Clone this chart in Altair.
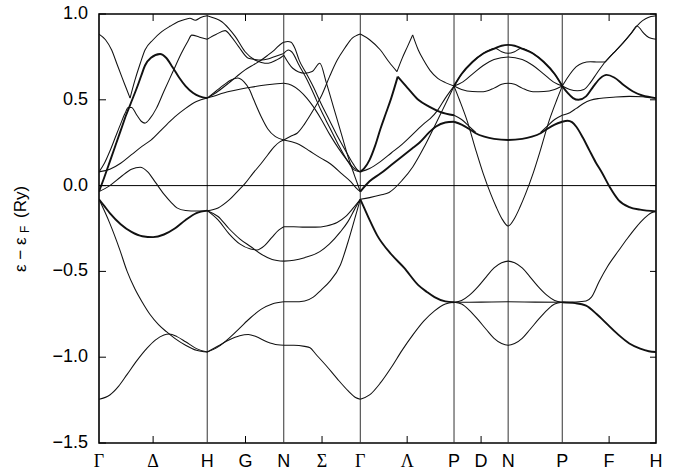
import altair as alt
import pandas as pd

# ---- path / axis data -------------------------------------------------
SYM_LABELS = ["Γ", "Δ", "H", "G", "N", "Σ", "Γ", "Λ", "P", "D", "N", "P", "F", "H"]
SYM_K = [0.0, 0.5, 1.0, 1.3536, 1.7071, 2.0607, 2.4142, 2.8472, 3.2802, 3.5302,
         3.7802, 4.2802, 4.7132, 5.1463]
GREEK = ["Γ", "Δ", "Σ", "Λ"]
VLINE_K = [1.0, 1.7071, 2.4142, 3.2802, 3.7802, 4.2802]
MINOR_K = [0.5, 1.3536, 2.0607, 2.8472, 3.5302, 4.7132]
Y_TICKS = [1.0, 0.5, 0.0, -0.5, -1.0, -1.5]
Y_LABELS = ["1.0", "0.5", "0.0", "−0.5", "−1.0", "−1.5"]
K_MAX = 5.1463

# ---- bands, segment Γ-H ---------------------------------------------------
GAMMA_H = {
    "GH_A1": [(0, 0.883), (0.06, 0.85), (0.117, 0.79), (0.165, 0.71), (0.21, 0.635), (0.25, 0.57), (0.287, 0.51)],
    "GH_A2": [(0.287, 0.51), (0.33, 0.61), (0.38, 0.71), (0.425, 0.79), (0.5, 0.85), (0.58, 0.897), (0.66, 0.93),
              (0.73, 0.955), (0.8, 0.97), (0.84, 0.975), (0.89, 0.963), (0.94, 0.98), (1.0, 0.99)],
    "GH_B": [(0, 0.08), (0.05, 0.13), (0.1, 0.2), (0.15, 0.28), (0.2, 0.36), (0.24, 0.42), (0.27, 0.455),
             (0.3, 0.455), (0.35, 0.41), (0.39, 0.375), (0.425, 0.364), (0.47, 0.39), (0.53, 0.45), (0.6, 0.55),
             (0.68, 0.66), (0.76, 0.77), (0.82, 0.84), (0.857, 0.877), (0.93, 0.865), (1.0, 0.853)],
    "GH_C": [(0, -0.035), (0.05, 0.05), (0.1, 0.14), (0.15, 0.23), (0.2, 0.32), (0.25, 0.41), (0.3, 0.49),
             (0.35, 0.57), (0.39, 0.64), (0.425, 0.70), (0.48, 0.745), (0.564, 0.767), (0.62, 0.745), (0.68, 0.69),
             (0.74, 0.63), (0.8, 0.58), (0.87, 0.54), (0.93, 0.52), (1.0, 0.51)],
    "GH_slow": [(0, 0.08), (0.1, 0.095), (0.2, 0.13), (0.3, 0.18), (0.4, 0.23), (0.48, 0.265), (0.6, 0.34),
                (0.7, 0.4), (0.8, 0.45), (0.9, 0.49), (1.0, 0.51)],
    "GH_3": [(0, -0.035), (0.1, 0.0), (0.2, 0.05), (0.3, 0.095), (0.38, 0.107), (0.45, 0.08), (0.52, 0.02),
             (0.6, -0.05), (0.67, -0.1), (0.72, -0.13), (0.8, -0.145), (0.9, -0.148), (1.0, -0.146)],
    "GH_U": [(0, -0.08), (0.05, -0.12), (0.1, -0.16), (0.2, -0.225), (0.3, -0.27), (0.4, -0.295), (0.5, -0.3),
             (0.6, -0.285), (0.7, -0.25), (0.8, -0.2), (0.9, -0.16), (1.0, -0.146)],
    "GH_par": [(0, -0.08), (0.1, -0.22), (0.19, -0.37), (0.26, -0.5), (0.33, -0.6), (0.4, -0.68), (0.47, -0.75),
               (0.55, -0.81), (0.62, -0.85), (0.7, -0.89), (0.8, -0.93), (0.9, -0.96), (1.0, -0.97)],
    "GH_low": [(0, -1.245), (0.1, -1.22), (0.18, -1.17), (0.26, -1.10), (0.35, -1.02), (0.44, -0.95), (0.52, -0.9),
               (0.6, -0.87), (0.65, -0.865), (0.72, -0.88), (0.8, -0.91), (0.9, -0.95), (1.0, -0.97)],
}

# ---- segment H-N ----------------------------------------------------------
H_N = {
    "HN_1": [(1.0, 0.99), (1.07, 0.975), (1.135, 0.955), (1.2, 0.915), (1.26, 0.868), (1.35, 0.78), (1.44, 0.732),
             (1.5, 0.718), (1.565, 0.713), (1.64, 0.732), (1.69, 0.751), (1.7071, 0.76)],
    "HN_2": [(1.0, 0.853), (1.08, 0.88), (1.165, 0.903), (1.22, 0.87), (1.29, 0.81), (1.38, 0.742), (1.44, 0.735),
             (1.5, 0.732), (1.56, 0.738), (1.62, 0.751), (1.7071, 0.77)],
    "HN_3": [(1.0, 0.51), (1.1, 0.55), (1.195, 0.596), (1.27, 0.635), (1.35, 0.674), (1.43, 0.705), (1.5, 0.732),
             (1.56, 0.76), (1.62, 0.79), (1.69, 0.83), (1.7071, 0.835)],
    "HN_4": [(1.0, 0.51), (1.08, 0.55), (1.16, 0.59), (1.22, 0.615), (1.28, 0.627), (1.34, 0.605), (1.39, 0.56),
             (1.43, 0.5), (1.5, 0.4), (1.56, 0.33), (1.63, 0.285), (1.7071, 0.266)],
    "HN_5": [(1.0, 0.51), (1.1, 0.53), (1.2, 0.548), (1.3, 0.562), (1.4, 0.573), (1.5, 0.583), (1.6, 0.591),
             (1.7071, 0.596)],
    "HN_6": [(1.0, -0.146), (1.1, -0.13), (1.2, -0.085), (1.3, -0.02), (1.35, 0.013), (1.42, 0.07), (1.5, 0.13),
             (1.56, 0.18), (1.62, 0.227), (1.67, 0.255), (1.7071, 0.266)],
    "HN_a": [(1.0, -0.146), (1.1, -0.18), (1.2, -0.25), (1.3, -0.31), (1.4, -0.355), (1.5, -0.40), (1.6, -0.43),
             (1.7071, -0.44)],
    "HN_b": [(1.0, -0.146), (1.1, -0.2), (1.2, -0.28), (1.3, -0.34), (1.4, -0.37), (1.46, -0.375), (1.53, -0.35),
             (1.6, -0.3), (1.66, -0.26), (1.7071, -0.24)],
    "HN_c": [(1.0, -0.97), (1.1, -0.94), (1.2, -0.89), (1.3, -0.83), (1.4, -0.77), (1.5, -0.72), (1.6, -0.69),
             (1.7071, -0.677)],
    "HN_d": [(1.0, -0.97), (1.1, -0.935), (1.2, -0.9), (1.3, -0.875), (1.38, -0.868), (1.45, -0.88), (1.55, -0.91),
             (1.65, -0.928), (1.7071, -0.93)],
}

# ---- segment N-Γ ----------------------------------------------------------
N_GAMMA = {
    "NG_a": [(1.7071, 0.835), (1.745, 0.84), (1.775, 0.835), (1.81, 0.8), (1.85, 0.73), (1.91, 0.66), (1.98, 0.576),
             (2.05, 0.48), (2.13, 0.38), (2.21, 0.28), (2.29, 0.19), (2.35, 0.125), (2.39, 0.09), (2.4142, 0.08)],
    "NG_b": [(1.7071, 0.76), (1.79, 0.684), (1.9, 0.655), (1.97, 0.665), (2.04, 0.713), (2.1, 0.6), (2.17, 0.45),
             (2.24, 0.3), (2.3, 0.17), (2.36, 0.06), (2.4142, -0.035)],
    "NG_c": [(1.7071, 0.77), (1.75, 0.79), (1.78, 0.78), (1.85, 0.7), (1.92, 0.62), (1.98, 0.54), (2.05, 0.44),
             (2.13, 0.34), (2.21, 0.24), (2.29, 0.15), (2.36, 0.09), (2.4142, 0.08)],
    "NG_d": [(1.7071, 0.596), (1.78, 0.585), (1.85, 0.555), (1.92, 0.51), (1.98, 0.46), (2.05, 0.39), (2.13, 0.3),
             (2.21, 0.22), (2.29, 0.15), (2.36, 0.1), (2.4142, 0.08)],
    "NG_e": [(1.7071, 0.266), (1.78, 0.29), (1.83, 0.305), (1.9, 0.36), (1.98, 0.44), (2.06, 0.53), (2.13, 0.635),
             (2.2, 0.73), (2.27, 0.8), (2.34, 0.86), (2.38, 0.875), (2.4142, 0.883)],
    "NG_f": [(1.7071, 0.266), (1.78, 0.255), (1.85, 0.24), (1.95, 0.2), (2.05, 0.16), (2.13, 0.13), (2.25, 0.065),
             (2.33, 0.02), (2.38, -0.016), (2.4142, -0.035)],
    "NG_low1": [(1.7071, -0.93), (1.8, -0.93), (1.9, -0.937), (1.95, -0.945), (2.0, -0.98), (2.1, -1.05),
                (2.2, -1.125), (2.3, -1.195), (2.37, -1.235), (2.4142, -1.245)],
    "NG_low2": [(1.7071, -0.44), (1.8, -0.435), (1.9, -0.42), (2.04, -0.385), (2.13, -0.34), (2.23, -0.27),
                (2.3, -0.21), (2.36, -0.14), (2.4142, -0.08)],
    "NG_low3": [(1.7071, -0.677), (1.8, -0.677), (1.9, -0.672), (1.98, -0.65), (2.05, -0.61), (2.13, -0.56),
                (2.23, -0.463), (2.3, -0.33), (2.36, -0.2), (2.4142, -0.08)],
    "NG_low4": [(1.7071, -0.24), (1.8, -0.24), (1.9, -0.242), (2.0, -0.242), (2.1, -0.235), (2.2, -0.215),
                (2.28, -0.18), (2.35, -0.13), (2.4142, -0.08)],
}

# ---- segment Γ-P ----------------------------------------------------------
GAMMA_P = {
    "GP_top1": [(2.4142, 0.883), (2.5, 0.85), (2.6, 0.79), (2.68, 0.72), (2.753, 0.664)],
    "GP_top2": [(2.753, 0.664), (2.8, 0.74), (2.85, 0.81), (2.898, 0.878)],
    "GP_top3": [(2.898, 0.878), (2.95, 0.79), (3.0, 0.73), (3.06, 0.67), (3.13, 0.625), (3.2, 0.6), (3.2802, 0.58)],
    "GP_cusp_a": [(2.4142, 0.08), (2.45, 0.1), (2.5, 0.15), (2.55, 0.23), (2.6, 0.33), (2.65, 0.42), (2.7, 0.51),
                  (2.76, 0.635)],
    "GP_cusp_b": [(2.76, 0.635), (2.85, 0.57), (2.95, 0.5), (3.05, 0.46), (3.15, 0.43), (3.2802, 0.41)],
    "GP_c": [(2.4142, 0.08), (2.5, 0.1), (2.6, 0.14), (2.7, 0.19), (2.8, 0.24), (2.9, 0.3), (3.0, 0.36),
             (3.06, 0.39), (3.13, 0.44), (3.2, 0.51), (3.2802, 0.58)],
    "GP_thick": [(2.4142, -0.035), (2.5, 0.025), (2.6, 0.07), (2.7, 0.12), (2.8, 0.17), (2.9, 0.22), (2.96, 0.25),
                 (3.05, 0.31), (3.11, 0.343), (3.2, 0.368), (3.2802, 0.372)],
    "GP_d": [(2.4142, -0.08), (2.5, -0.07), (2.6, -0.055), (2.68, -0.04), (2.8, 0.03), (2.9, 0.11), (3.0, 0.22),
             (3.08, 0.32), (3.15, 0.41), (3.22, 0.5), (3.2802, 0.58)],
    "GP_mid": [(2.4142, -0.08), (2.45, -0.13), (2.5, -0.2), (2.57, -0.29), (2.7, -0.4), (2.82, -0.48),
               (2.95, -0.58), (3.03, -0.62), (3.1, -0.65), (3.2, -0.675), (3.2802, -0.68)],
    "GP_low": [(2.4142, -1.245), (2.5, -1.22), (2.6, -1.15), (2.7, -1.06), (2.8, -0.96), (2.9, -0.87), (3.0, -0.79),
               (3.1, -0.73), (3.2, -0.69), (3.2802, -0.68)],
}

# ---- segments P-N-P -------------------------------------------------------
P_N_P = {
    "PNP_1": [(3.2802, 0.58), (3.35, 0.65), (3.45, 0.72), (3.55, 0.77), (3.66, 0.80), (3.72, 0.815), (3.7802, 0.82),
              (3.84, 0.815), (3.90, 0.80), (4.01, 0.77), (4.11, 0.72), (4.21, 0.65), (4.2802, 0.58)],
    "PNP_2": [(3.2802, 0.58), (3.35, 0.65), (3.45, 0.72), (3.55, 0.77), (3.66, 0.80), (3.72, 0.78), (3.7802, 0.771),
              (3.84, 0.78), (3.90, 0.80), (4.01, 0.77), (4.11, 0.72), (4.21, 0.65), (4.2802, 0.58)],
    "PNP_3": [(3.2802, 0.58), (3.35, 0.6), (3.45, 0.65), (3.55, 0.70), (3.65, 0.735), (3.7802, 0.75), (3.91, 0.735),
              (4.01, 0.70), (4.11, 0.65), (4.21, 0.6), (4.2802, 0.58)],
    "PNP_4": [(3.2802, 0.58), (3.35, 0.56), (3.45, 0.548), (3.55, 0.547), (3.65, 0.568), (3.72, 0.59),
              (3.7802, 0.596), (3.84, 0.59), (3.91, 0.568), (4.01, 0.547), (4.11, 0.548), (4.21, 0.56),
              (4.2802, 0.58)],
    "PNP_5": [(3.2802, 0.58), (3.33, 0.5), (3.4, 0.38), (3.48, 0.21), (3.55, 0.07), (3.62, -0.05), (3.67, -0.125),
              (3.72, -0.19), (3.7802, -0.235), (3.84, -0.19), (3.89, -0.125), (3.94, -0.05), (4.01, 0.07),
              (4.08, 0.21), (4.16, 0.38), (4.23, 0.5), (4.2802, 0.58)],
    "PNP_thick": [(3.2802, 0.372), (3.35, 0.355), (3.42, 0.33), (3.48, 0.305), (3.56, 0.285), (3.65, 0.272),
                  (3.7802, 0.266), (3.91, 0.272), (4.0, 0.285), (4.08, 0.305), (4.14, 0.33), (4.21, 0.355),
                  (4.2802, 0.372)],
    "PNP_x1": [(3.2802, 0.41), (3.35, 0.385), (3.42, 0.345), (3.48, 0.31)],
    "PNP_x2": [(4.08, 0.31), (4.14, 0.345), (4.21, 0.385), (4.2802, 0.41)],
    "PNP_l1": [(3.2802, -0.68), (3.35, -0.67), (3.42, -0.64), (3.5, -0.59), (3.58, -0.53), (3.65, -0.48),
               (3.72, -0.45), (3.7802, -0.44), (3.84, -0.45), (3.91, -0.48), (3.98, -0.53), (4.06, -0.59),
               (4.14, -0.64), (4.21, -0.67), (4.2802, -0.68)],
    "PNP_l2": [(3.2802, -0.68), (3.53, -0.679), (3.7802, -0.677), (4.03, -0.679), (4.2802, -0.68)],
    "PNP_l3": [(3.2802, -0.68), (3.35, -0.69), (3.42, -0.725), (3.5, -0.78), (3.58, -0.84), (3.65, -0.89),
               (3.72, -0.92), (3.7802, -0.93), (3.84, -0.92), (3.91, -0.89), (3.98, -0.84), (4.06, -0.78),
               (4.14, -0.725), (4.21, -0.69), (4.2802, -0.68)],
}

# ---- segment P-H ----------------------------------------------------------
P_H = {
    "PH_A": [(4.2802, 0.58), (4.33, 0.63), (4.41, 0.693), (4.47, 0.715), (4.54, 0.722), (4.61, 0.72), (4.675, 0.72)],
    "PH_B": [(4.2802, 0.58), (4.35, 0.56), (4.42, 0.553), (4.48, 0.56), (4.54, 0.6), (4.6, 0.655), (4.675, 0.72)],
    "PH_up1": [(4.675, 0.72), (4.75, 0.77), (4.84, 0.83), (4.92, 0.89), (4.97, 0.93), (5.0, 0.95), (5.05, 0.972),
               (5.1, 0.985), (5.1463, 0.99)],
    "PH_up2": [(4.675, 0.72), (4.75, 0.77), (4.84, 0.83), (4.92, 0.89), (4.97, 0.93), (5.0, 0.915), (5.02, 0.897),
               (5.06, 0.872), (5.1, 0.858), (5.1463, 0.853)],
    "PH_T": [(4.2802, 0.58), (4.33, 0.54), (4.38, 0.51), (4.43, 0.50), (4.5, 0.52), (4.57, 0.58), (4.63, 0.625),
             (4.69, 0.645), (4.76, 0.63), (4.85, 0.585), (4.93, 0.55), (5.02, 0.525), (5.1463, 0.51)],
    "PH_thin": [(4.2802, 0.41), (4.35, 0.425), (4.41, 0.45), (4.48, 0.48), (4.54, 0.497), (4.62, 0.508),
                (4.75, 0.515), (4.9, 0.52), (5.02, 0.518), (5.1463, 0.51)],
    "PH_low": [(4.2802, 0.372), (4.33, 0.378), (4.37, 0.37), (4.41, 0.343), (4.47, 0.28), (4.53, 0.207),
               (4.59, 0.135), (4.65, 0.072), (4.72, -0.01), (4.8, -0.084), (4.9, -0.125), (5.0, -0.14),
               (5.1463, -0.15)],
    "PH_rise": [(4.2802, -0.68), (4.4, -0.678), (4.5, -0.672), (4.55, -0.65), (4.62, -0.56), (4.7, -0.47),
                (4.8, -0.38), (4.88, -0.31), (4.96, -0.245), (5.04, -0.19), (5.1, -0.16), (5.1463, -0.15)],
    "PH_bottom": [(4.2802, -0.68), (4.4, -0.685), (4.5, -0.70), (4.6, -0.75), (4.7, -0.81), (4.8, -0.87),
                  (4.9, -0.92), (5.0, -0.95), (5.08, -0.965), (5.1463, -0.97)],
}

THICK = ["GH_C", "GH_U", "GP_cusp_a", "GP_cusp_b", "GP_thick", "GP_mid", "PNP_thick",
         "PH_T", "PH_low", "PH_bottom", "PNP_1"]

# ---- build table ----------------------------------------------------------
rows = []
for seg in (GAMMA_H, H_N, N_GAMMA, GAMMA_P, P_N_P, P_H):
    for name, pts in seg.items():
        w = 1.9 if name in THICK else 1.05
        for k, e in pts:
            rows.append({"band": name, "k": k, "e": e, "w": w})
bands = pd.DataFrame(rows)

W, H = 557, 429
xs = alt.Scale(domain=[0, K_MAX], nice=False, zero=False)
ys = alt.Scale(domain=[-1.5, 1.0], nice=False, zero=False)


def X(field="k:Q"):
    return alt.X(field, scale=xs, axis=None)


def Y(field="e:Q"):
    return alt.Y(field, scale=ys, axis=None)


lines = alt.Chart(bands).mark_line(interpolate="monotone", color="#111", clip=True).encode(
    x=X(), y=Y(), detail="band:N",
    strokeWidth=alt.StrokeWidth("w:Q", scale=None),
)

vdf = pd.DataFrame({"k": VLINE_K})
vlines = alt.Chart(vdf).mark_rule(color="#333", strokeWidth=1).encode(x=X())

hdf = pd.DataFrame({"e": [0.0]})
hline = alt.Chart(hdf).mark_rule(color="black", strokeWidth=1).encode(y=Y())

ydf = pd.DataFrame({"e": Y_TICKS, "label": Y_LABELS})
lticks = alt.Chart(ydf).mark_rule(color="black", strokeWidth=1).encode(
    y=Y(), x=alt.value(0), x2=alt.value(7))
rticks = alt.Chart(ydf).mark_rule(color="black", strokeWidth=1).encode(
    y=Y(), x=alt.value(W - 6), x2=alt.value(W))
ylabels = alt.Chart(ydf).mark_text(font="Liberation Sans", fontSize=18, color="black",
                                   align="right", baseline="middle").encode(
    y=Y(), x=alt.value(-11), text="label:N")

mdf = pd.DataFrame({"k": MINOR_K})
tticks = alt.Chart(mdf).mark_rule(color="black", strokeWidth=1).encode(
    x=X(), y=alt.value(0), y2=alt.value(7))
bticks = alt.Chart(mdf).mark_rule(color="black", strokeWidth=1).encode(
    x=X(), y=alt.value(H - 7), y2=alt.value(H))

ldf = pd.DataFrame({"k": SYM_K, "label": SYM_LABELS,
                    "greek": [lab in GREEK for lab in SYM_LABELS]})
lab_latin = alt.Chart(ldf).transform_filter("!datum.greek").mark_text(
    font="Liberation Sans", fontSize=18, color="black", baseline="middle", align="center").encode(
    x=X(), y=alt.value(H + 19), text="label:N")
lab_greek = alt.Chart(ldf).transform_filter("datum.greek").mark_text(
    font="Liberation Serif", fontSize=18, color="black", baseline="middle", align="center").encode(
    x=X(), y=alt.value(H + 19), text="label:N")

one = pd.DataFrame({"i": [0]})
t1 = alt.Chart(one).mark_text(text="ε − ε", font="Liberation Sans", fontSize=17, angle=270,
                              align="left", baseline="alphabetic", color="black").encode(
    x=alt.value(-73.5), y=alt.value(258))
t2 = alt.Chart(one).mark_text(text="F", font="Liberation Sans", fontSize=12, angle=270,
                              align="left", baseline="alphabetic", color="black").encode(
    x=alt.value(-70.5), y=alt.value(219))
t3 = alt.Chart(one).mark_text(text="(Ry)", font="Liberation Sans", fontSize=17, angle=270,
                              align="left", baseline="alphabetic", color="black").encode(
    x=alt.value(-73.5), y=alt.value(204))

chart = alt.layer(vlines, hline, lines, lticks, rticks, tticks, bticks, ylabels,
                  lab_latin, lab_greek, t1, t2, t3).properties(
    width=W, height=H, autosize="none",
    padding={"left": 99, "top": 14, "right": 20, "bottom": 32},
    background="white",
).configure_view(stroke="black", strokeWidth=1.6)

chart.save("out.html", embed_options={"renderer": "svg", "actions": False})
